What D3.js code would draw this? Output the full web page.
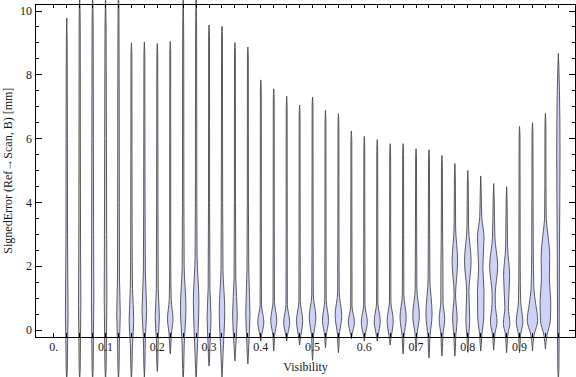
<!DOCTYPE html>
<html>
<head>
<meta charset="utf-8">
<script src="https://cdn.jsdelivr.net/npm/d3@7"></script>
<style>
  body { margin: 0; background: #fff; }
  text { font-family: "Liberation Serif", "DejaVu Serif", serif; fill: #1a1a1a; }
</style>
</head>
<body>
<div id="container"></div>
<script>
// visibility bins (violin centres)
var visibility = [0.025, 0.05, 0.075, 0.1, 0.125, 0.15, 0.175, 0.2, 0.225, 0.25,
                  0.275, 0.3, 0.325, 0.35, 0.375, 0.4, 0.425, 0.45, 0.475, 0.5,
                  0.525, 0.55, 0.575, 0.6, 0.625, 0.65, 0.675, 0.7, 0.725, 0.75,
                  0.775, 0.8, 0.825, 0.85, 0.875, 0.9, 0.925, 0.95, 0.975];

// largest and smallest signed error in each bin [mm]
var maxError = [9.78, 10.6, 10.6, 10.6, 10.6, 9.0, 9.03, 8.98, 9.05, 10.6,
                10.6, 9.56, 9.52, 9.01, 8.87, 7.84, 7.56, 7.33, 7.05, 7.30,
                6.89, 6.78, 6.24, 6.07, 5.97, 5.84, 5.84, 5.68, 5.65, 5.47,
                5.22, 5.0, 4.83, 4.59, 4.49, 6.38, 6.5, 6.79, 8.67];
var minError = [-1.6, -1.6, -1.6, -1.6, -1.6, -1.6, -1.5, -1.3, -0.75, -1.6,
                -1.6, -1.13, -1.5, -0.97, -1.06, -0.35, -0.66, -0.35, -0.47, -0.95,
                -0.56, -0.71, -0.27, -0.35, -0.35, -0.47, -0.75, -0.66, -0.88, -0.82,
                -0.82, -0.7, -0.66, -0.63, -0.71, -0.71, -0.66, -0.6, -1.6];

// density profile of each bin: [error, relative density]
var density = [
  [[-1.2,0.1],[-0.3,0.16],[0.5,0.24],[1.5,0.2],[3,0.14],[6,0.12],[9,0.08]],
  [[-1.2,0.1],[0,0.16],[0.8,0.22],[2.5,0.16],[6,0.12],[9.5,0.1]],
  [[-1.2,0.1],[0,0.16],[1,0.22],[3,0.18],[6,0.14],[9.5,0.1]],
  [[-1.2,0.1],[0,0.18],[1,0.24],[3,0.2],[6,0.16],[9.5,0.1]],
  [[-1.2,0.1],[-0.4,0.16],[0.5,0.32],[1.6,0.18],[4,0.15],[8,0.12],[10,0.08]],
  [[-1.2,0.1],[-0.5,0.18],[0.3,0.42],[1.3,0.2],[3,0.13],[6,0.1],[8.6,0.08]],
  [[-1.1,0.1],[-0.2,0.18],[0.6,0.42],[1.8,0.18],[4,0.12],[8.6,0.08]],
  [[-1,0.1],[-0.3,0.16],[0.4,0.38],[1.3,0.17],[4,0.12],[8.6,0.08]],
  [[-0.5,0.1],[-0.15,0.2],[0.35,0.5],[0.95,0.18],[2,0.1],[8.6,0.08]],
  [[-1.2,0.1],[-0.5,0.18],[0.7,0.5],[2,0.18],[4,0.13],[9,0.1]],
  [[-1.2,0.1],[-0.8,0.18],[0.9,0.5],[2.3,0.18],[4,0.13],[9,0.1]],
  [[-0.9,0.1],[-0.5,0.16],[0.4,0.36],[1.3,0.16],[4,0.1],[9.2,0.08]],
  [[-1.2,0.1],[-0.8,0.18],[0.6,0.5],[1.9,0.18],[4,0.12],[9.2,0.08]],
  [[-0.7,0.1],[-0.5,0.16],[0.5,0.42],[1.6,0.16],[4,0.1],[8.7,0.08]],
  [[-0.8,0.1],[-0.5,0.16],[0.5,0.38],[1.9,0.16],[4,0.1],[8.5,0.08]],
  [[-0.2,0.12],[0.25,0.55],[0.8,0.12],[3,0.1],[7.5,0.08]],
  [[-0.4,0.1],[-0.2,0.14],[0.3,0.55],[0.9,0.13],[3,0.1],[7.2,0.08]],
  [[-0.2,0.12],[0.25,0.55],[0.8,0.12],[3,0.1],[7,0.08]],
  [[-0.3,0.12],[0.3,0.56],[0.9,0.13],[3,0.1],[6.7,0.08]],
  [[-0.7,0.1],[-0.25,0.15],[0.4,0.6],[1.1,0.14],[3,0.1],[7,0.08]],
  [[-0.35,0.1],[-0.2,0.13],[0.3,0.55],[0.95,0.13],[3,0.1],[6.5,0.08]],
  [[-0.5,0.1],[-0.2,0.14],[0.45,0.6],[1.2,0.14],[3,0.1],[6.4,0.08]],
  [[-0.15,0.12],[0.25,0.55],[0.75,0.12],[3,0.1],[5.9,0.08]],
  [[-0.2,0.12],[0.25,0.55],[0.8,0.12],[3,0.1],[5.7,0.08]],
  [[-0.2,0.12],[0.28,0.55],[0.85,0.12],[3,0.1],[5.6,0.08]],
  [[-0.3,0.12],[0.3,0.55],[0.9,0.13],[3,0.1],[5.5,0.08]],
  [[-0.5,0.1],[-0.25,0.14],[0.4,0.56],[1.1,0.14],[3,0.1],[5.5,0.08]],
  [[-0.45,0.1],[-0.2,0.14],[0.45,0.6],[1.3,0.15],[3,0.11],[5.3,0.08]],
  [[-0.6,0.1],[-0.3,0.14],[0.5,0.56],[1.6,0.16],[3,0.12],[5.3,0.08]],
  [[-0.55,0.1],[-0.2,0.16],[0.35,0.5],[0.9,0.2],[2,0.18],[3,0.12],[5.1,0.08]],
  [[-0.55,0.1],[-0.2,0.16],[0.35,0.42],[1.1,0.13],[2.15,0.5],[3.2,0.14],[4.8,0.08]],
  [[-0.45,0.1],[-0.2,0.15],[0.3,0.36],[1.2,0.2],[2.15,0.6],[3.2,0.15],[4.6,0.08]],
  [[-0.45,0.1],[-0.15,0.2],[0.4,0.55],[1.2,0.6],[1.95,0.38],[2.9,0.6],[3.55,0.18],[4.4,0.08]],
  [[-0.4,0.1],[-0.1,0.25],[0.25,0.6],[0.8,0.3],[1.1,0.28],[2.0,0.73],[2.9,0.22],[4.2,0.08]],
  [[-0.45,0.1],[-0.1,0.25],[0.2,0.6],[0.7,0.32],[1.7,0.55],[2.6,0.18],[4.1,0.08]],
  [[-0.45,0.1],[-0.15,0.2],[0.25,0.6],[0.9,0.2],[2,0.12],[6,0.08]],
  [[-0.4,0.1],[-0.15,0.3],[0.3,0.95],[0.8,0.6],[1.3,0.25],[2.5,0.14],[4,0.11],[6.1,0.08]],
  [[-0.4,0.1],[-0.15,0.3],[0.3,0.9],[0.9,0.97],[1.6,0.72],[2.3,0.78],[3.0,0.45],[3.5,0.15],[4.5,0.1],[6.4,0.08]],
  [[-1.2,0.1],[0,0.15],[2.5,0.2],[5.5,0.3],[7.5,0.2],[8.3,0.08]]
];

var xTickValues = [0, 0.1, 0.2, 0.3, 0.4, 0.5, 0.6, 0.7, 0.8, 0.9];
var xTickLabels = ["0.", "0.1", "0.2", "0.3", "0.4", "0.5", "0.6", "0.7", "0.8", "0.9"];
var yTickValues = [0, 2, 4, 6, 8, 10];

var width = 576, height = 377;

var svg = d3.select("#container").append("svg")
    .attr("width", width)
    .attr("height", height);

var x = d3.scaleLinear().domain([0, 1]).range([53.8, 571.3]);
var y = d3.scaleLinear().domain([0, 10]).range([330, 11]);
var w = d3.scaleLinear().domain([0, 1]).range([0, 5.5]);

// frame extent (plot range with padding)
var x0 = x(-0.0345), x1 = x(1.0075);
var y0 = y(-0.22), y1 = y(10.21);

// violins
var area = d3.area()
    .y(function(d) { return y(d[0]); })
    .x0(function(d) { return -w(d[1]); })
    .x1(function(d) { return w(d[1]); })
    .curve(d3.curveMonotoneY);

svg.append("g").selectAll("path")
    .data(visibility)
    .enter().append("path")
    .attr("transform", function(d) { return "translate(" + x(d) + ",0)"; })
    .attr("d", function(d, i) {
        var pts = [[minError[i], 0]].concat(density[i], [[maxError[i], 0]]);
        return area(pts);
    })
    .attr("fill", "#cdd2f6")
    .attr("stroke", "#4a4a4a")
    .attr("stroke-opacity", 0.9)
    .attr("stroke-width", 1);

// frame
var frame = svg.append("g")
    .attr("stroke", "#000")
    .attr("stroke-width", 1)
    .attr("shape-rendering", "crispEdges");

frame.append("rect")
    .attr("x", x0).attr("y", y1)
    .attr("width", x1 - x0).attr("height", y0 - y1)
    .attr("fill", "none");

var xMinor = d3.range(0, 40).map(function(i) { return i * 0.025; });
var yMinor = d3.range(0, 21).map(function(i) { return i * 0.5; });

xMinor.forEach(function(v) {
    frame.append("line").attr("x1", x(v)).attr("x2", x(v)).attr("y1", y0).attr("y2", y0 - 4);
    frame.append("line").attr("x1", x(v)).attr("x2", x(v)).attr("y1", y1).attr("y2", y1 + 4);
});
yMinor.forEach(function(v) {
    var len = (v % 2 === 0) ? 6 : 3.5;
    frame.append("line").attr("x1", x0).attr("x2", x0 + len).attr("y1", y(v)).attr("y2", y(v));
    frame.append("line").attr("x1", x1).attr("x2", x1 - len).attr("y1", y(v)).attr("y2", y(v));
});

// tick labels
svg.append("g").selectAll("text")
    .data(xTickValues)
    .enter().append("text")
    .attr("x", function(d) { return x(d); })
    .attr("y", 351)
    .attr("text-anchor", "middle")
    .attr("font-size", 12)
    .text(function(d, i) { return xTickLabels[i]; });

svg.append("g").selectAll("text")
    .data(yTickValues)
    .enter().append("text")
    .attr("x", 32)
    .attr("y", function(d) { return y(d); })
    .attr("dy", "0.35em")
    .attr("text-anchor", "end")
    .attr("font-size", 12)
    .text(function(d) { return d; });

// axis titles
svg.append("text")
    .attr("x", (x0 + x1) / 2)
    .attr("y", 371)
    .attr("text-anchor", "middle")
    .attr("font-size", 12)
    .text("Visibility");

svg.append("text")
    .attr("transform", "translate(11.5," + ((y0 + y1) / 2) + ") rotate(-90)")
    .attr("text-anchor", "middle")
    .attr("font-size", 12)
    .text("SignedError (Ref\u2192Scan, B) [mm]");
</script>
</body>
</html>
